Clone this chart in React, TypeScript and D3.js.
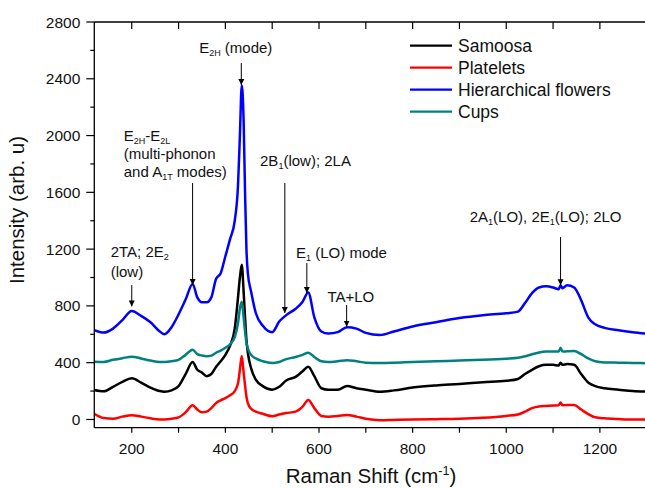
import React from "react";
import * as d3 from "d3";

const shift = [120, 140, 160, 180, 200, 220, 240, 260, 270, 285, 300, 315, 330, 340, 350, 360, 370, 380, 390, 400, 410, 420, 427, 431, 435, 439, 442, 445, 448, 455, 465, 480, 500, 515, 530, 550, 565, 577, 590, 605, 620, 640, 660, 680, 700, 730, 760, 800, 850, 900, 950, 1000, 1025, 1040, 1055, 1070, 1085, 1100, 1112, 1116, 1120, 1130, 1145, 1160, 1175, 1190, 1210, 1240, 1270, 1300];

const samoosa = [208, 198, 230, 265, 290, 260, 225, 200, 196, 205, 235, 320, 405, 350, 330, 305, 320, 370, 410, 455, 520, 640, 860, 1000, 1090, 900, 720, 560, 470, 360, 280, 235, 210, 230, 275, 300, 340, 372, 305, 220, 210, 210, 235, 220, 210, 196, 205, 225, 240, 250, 262, 272, 285, 320, 350, 375, 385, 385, 380, 400, 385, 390, 385, 320, 260, 235, 220, 210, 200, 196];

const platelets = [40, 10, 5, 20, 30, 20, 8, 0, 0, 5, 15, 50, 100, 70, 50, 55, 80, 115, 135, 150, 170, 200, 255, 350, 447, 330, 240, 160, 115, 75, 55, 40, 22, 35, 45, 55, 90, 137, 80, 25, 20, 25, 32, 20, 5, -5, -3, 0, 2, 5, 12, 25, 35, 55, 80, 92, 95, 98, 100, 120, 100, 102, 102, 70, 38, 15, 8, 3, 0, 0];

const flowers = [630, 612, 640, 700, 764, 730, 685, 620, 600, 650, 740, 845, 955, 860, 825, 825, 860, 990, 1030, 1150, 1270, 1400, 1650, 2000, 2355, 2100, 1600, 1200, 1030, 900, 750, 660, 615, 690, 735, 780, 830, 895, 720, 620, 605, 615, 650, 640, 610, 595, 620, 655, 685, 715, 735, 748, 760, 820, 890, 930, 938, 930, 918, 945, 925, 945, 930, 840, 720, 670, 645, 628, 615, 605];

const cups = [407, 405, 420, 432, 442, 430, 415, 405, 405, 410, 420, 455, 492, 460, 450, 445, 450, 470, 485, 505, 530, 580, 680, 780, 830, 720, 620, 540, 500, 455, 430, 410, 398, 405, 425, 440, 455, 470, 440, 410, 405, 410, 418, 410, 400, 398, 400, 405, 410, 415, 420, 428, 434, 445, 460, 472, 478, 478, 478, 505, 478, 480, 482, 460, 430, 410, 402, 400, 398, 396];

const seriesNames = ["Samoosa", "Platelets", "Hierarchical flowers", "Cups"];
const seriesColors = ["#000000", "#ff0000", "#0000ff", "#008080"];
const seriesValues = [samoosa, platelets, flowers, cups];

const xMajorTicks = [200, 400, 600, 800, 1000, 1200];
const xMinorTicks = [200, 300, 400, 500, 600, 700, 800, 900, 1000, 1100, 1200];
const yMajorTicks = [0, 400, 800, 1200, 1600, 2000, 2400, 2800];
const yMinorTicks = [200, 600, 1000, 1400, 1800, 2200, 2600];

type Part = { t: string; sub?: boolean };
type Ann = { lines: Part[][]; x: number; y: number; arrowX: number; arrowFrom: number; arrowTo: number; lineH: number };

// annotation texts (anchored in data units: wavenumber / intensity)
const annotations: Ann[] = [
  { lines: [[{ t: "E" }, { t: "2H", sub: true }, { t: " (mode)" }]], x: 344, y: 2582, arrowX: 434, arrowFrom: 2511, arrowTo: 2356, lineH: 0 },
  {
    lines: [
      [{ t: "E" }, { t: "2H", sub: true }, { t: "-E" }, { t: "2L", sub: true }],
      [{ t: "(multi-phonon" }],
      [{ t: "and A" }, { t: "1T", sub: true }, { t: " modes)" }],
    ],
    x: 183, y: 1965, arrowX: 330, arrowFrom: 1666, arrowTo: 947, lineH: 18.3,
  },
  { lines: [[{ t: "2B" }, { t: "1", sub: true }, { t: "(low); 2LA" }]], x: 474, y: 1783, arrowX: 527, arrowFrom: 1666, arrowTo: 750, lineH: 0 },
  { lines: [[{ t: "2TA; 2E" }, { t: "2", sub: true }], [{ t: "(low)" }]], x: 155, y: 1147, arrowX: 200, arrowFrom: 947, arrowTo: 796, lineH: 20 },
  { lines: [[{ t: "E" }, { t: "1", sub: true }, { t: " (LO) mode" }]], x: 551, y: 1137, arrowX: 574, arrowFrom: 1102, arrowTo: 891, lineH: 0 },
  { lines: [[{ t: "TA+LO" }]], x: 618, y: 830, arrowX: 659, arrowFrom: 806, arrowTo: 654, lineH: 0 },
  { lines: [[{ t: "2A" }, { t: "1", sub: true }, { t: "(LO), 2E" }, { t: "1", sub: true }, { t: "(LO); 2LO" }]], x: 922, y: 1393, arrowX: 1116, arrowFrom: 1285, arrowTo: 946, lineH: 0 },
];

const W = 645;
const H = 488;
const FONT = "'Liberation Sans', Arial, sans-serif";

function PartsText({ parts, x, y, size }: { parts: Part[]; x: number; y: number; size: number }) {
  const nodes: React.ReactNode[] = [];
  let prevSub = false;
  parts.forEach((p, i) => {
    let dy = 0;
    if (p.sub && !prevSub) dy = 3;
    else if (!p.sub && prevSub) dy = -3;
    nodes.push(
      <tspan key={i} dy={dy} fontSize={p.sub ? size * 0.6 : size}>
        {p.t}
      </tspan>
    );
    prevSub = !!p.sub;
  });
  return (
    <text x={x} y={y} fontFamily={FONT} fontSize={size} fill="#111">
      {nodes}
    </text>
  );
}

export default function App() {
  const x = d3.scaleLinear().domain([120, 1300]).range([94.3, 646.7]);
  const y = d3.scaleLinear().domain([-58, 2800]).range([427.7, 22]);
  const left = x.range()[0];
  const bottom = y.range()[0];
  const top = y.range()[1];
  const right = x.range()[1];

  const line = d3
    .line<number>()
    .x((_, i) => x(shift[i]))
    .y((d) => y(d))
    .curve(d3.curveMonotoneX);

  return (
    <div style={{ position: "absolute", left: 0, top: 0 }}>
      <svg width={W} height={H} style={{ display: "block", background: "#fff" }}>
        <defs>
          <clipPath id="plot">
            <rect x={left} y={top} width={right - left} height={bottom - top} />
          </clipPath>
          <marker id="arr" viewBox="0 0 10 10" refX="10" refY="5" markerWidth="6" markerHeight="8" markerUnits="userSpaceOnUse" orient="auto">
            <path d="M0,0 L10,5 L0,10 Z" fill="#000" />
          </marker>
        </defs>

        <g clipPath="url(#plot)">
          {seriesValues.map((vals, i) => (
            <path key={seriesNames[i]} d={line(vals) || ""} fill="none" stroke={seriesColors[i]} strokeWidth={2.5} strokeLinejoin="round" />
          ))}
        </g>

        {/* frame */}
        <line x1={left} x2={right} y1={top} y2={top} stroke="#000" strokeWidth={1.3} />
        <line x1={left} x2={left} y1={top} y2={bottom} stroke="#000" strokeWidth={1.3} />
        <line x1={left} x2={right} y1={bottom} y2={bottom} stroke="#000" strokeWidth={1.3} />

        {/* x ticks */}
        {xMinorTicks.map((t) => (
          <g key={"xt" + t}>
            <line x1={x(t)} x2={x(t)} y1={bottom} y2={bottom + 5} stroke="#000" strokeWidth={1.2} />
            <line x1={x(t)} x2={x(t)} y1={top} y2={top + 7} stroke="#000" strokeWidth={1.2} />
          </g>
        ))}
        {xMajorTicks.map((t) => (
          <text key={"xl" + t} x={x(t)} y={454} textAnchor="middle" fontFamily={FONT} fontSize={15.5} fill="#111">
            {t}
          </text>
        ))}

        {/* y ticks */}
        {yMajorTicks.map((t) => (
          <g key={"yt" + t}>
            <line x1={left - 8} x2={left} y1={y(t)} y2={y(t)} stroke="#000" strokeWidth={1.2} />
            <text x={left - 14} y={y(t) + 5.5} textAnchor="end" fontFamily={FONT} fontSize={15.5} fill="#111">
              {t}
            </text>
          </g>
        ))}
        {yMinorTicks.map((t) => (
          <line key={"ym" + t} x1={left - 4} x2={left} y1={y(t)} y2={y(t)} stroke="#000" strokeWidth={1.2} />
        ))}

        {/* axis titles */}
        <text x={371} y={483} textAnchor="middle" fontFamily={FONT} fontSize={20.5} fill="#111">
          Raman Shift (cm
          <tspan dy={-8} fontSize={12.5}>-1</tspan>
          <tspan dy={8}>)</tspan>
        </text>
        <text transform={`translate(24,210) rotate(-90)`} textAnchor="middle" fontFamily={FONT} fontSize={20.5} fill="#111">
          Intensity (arb. u)
        </text>

        {/* annotations */}
        {annotations.map((a, i) => (
          <g key={"ann" + i}>
            {a.lines.map((parts, j) => (
              <PartsText key={j} parts={parts} x={x(a.x)} y={y(a.y) + j * a.lineH} size={15} />
            ))}
            <line x1={x(a.arrowX)} x2={x(a.arrowX)} y1={y(a.arrowFrom)} y2={y(a.arrowTo)} stroke="#000" strokeWidth={1} markerEnd="url(#arr)" />
          </g>
        ))}

        {/* legend */}
        {seriesNames.map((n, i) => (
          <g key={"lg" + i} transform={`translate(410,${45.7 + i * 22})`}>
            <line x1={0} x2={42} y1={0} y2={0} stroke={seriesColors[i]} strokeWidth={2.2} />
            <text x={48} y={6} fontFamily={FONT} fontSize={17.5} fill="#111">
              {n}
            </text>
          </g>
        ))}
      </svg>
    </div>
  );
}
